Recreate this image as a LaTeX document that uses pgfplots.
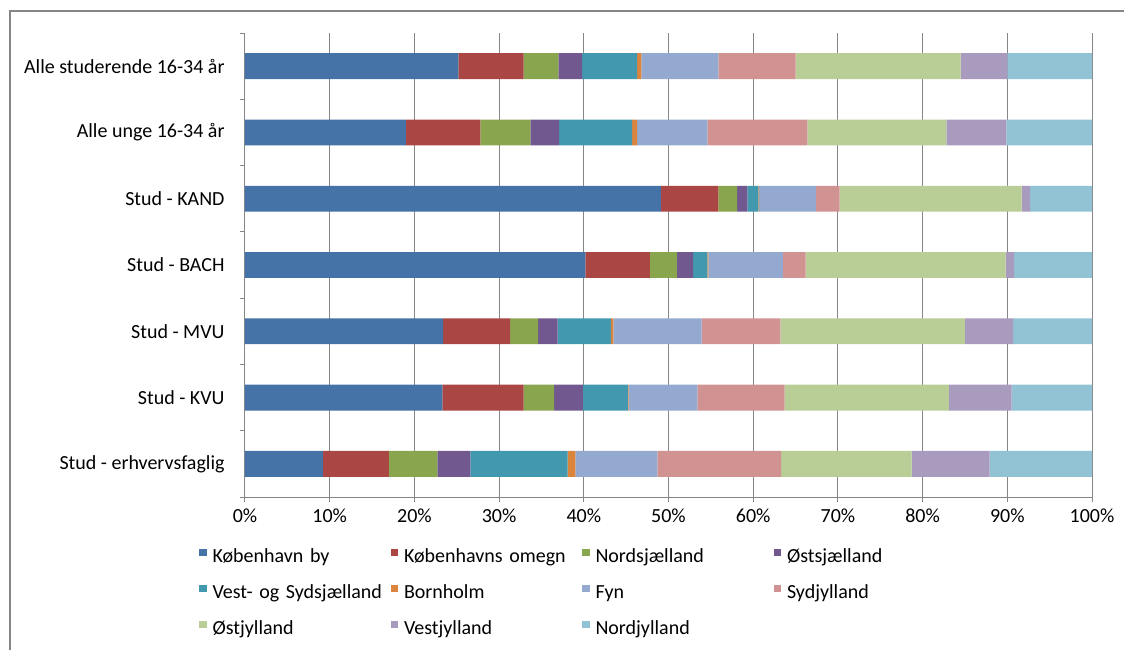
\documentclass[border=0pt]{standalone}
\usepackage{pgfplots}
\pgfplotsset{compat=1.18}
\usepackage{pgfplotstable}
\usepackage{fontspec}
\setmainfont{Carlito}

\definecolor{kby}{RGB}{69,114,167}
\definecolor{kom}{RGB}{170,70,67}
\definecolor{nord}{RGB}{137,165,78}
\definecolor{ost}{RGB}{113,88,143}
\definecolor{vs}{RGB}{65,152,175}
\definecolor{born}{RGB}{219,132,61}
\definecolor{fyn}{RGB}{147,169,207}
\definecolor{syd}{RGB}{209,147,146}
\definecolor{ostj}{RGB}{185,205,150}
\definecolor{vest}{RGB}{169,155,189}
\definecolor{nordj}{RGB}{145,195,213}
\definecolor{axgray}{RGB}{134,134,134}

% andele i procent, en raekke pr. gruppe (0 = oeverst)
\pgfplotstableread{
row kby  kom nord ost vs   born fyn  syd  ostj vest nordj
0   25.2 7.7 4.1  2.8 6.5  0.5  9.1  9.1  19.5 5.5  10.0
1   19.0 8.8 5.9  3.4 8.6  0.6  8.3  11.8 16.4 7.1  10.1
2   49.1 6.8 2.2  1.2 1.3  0.1  6.7  2.8  21.5 1.0  7.3
3   40.2 7.6 3.2  1.9 1.7  0.1  8.8  2.7  23.6 1.0  9.2
4   23.4 7.9 3.3  2.3 6.3  0.3  10.4 9.3  21.8 5.7  9.3
5   23.3 9.6 3.6  3.4 5.3  0.1  8.1  10.3 19.4 7.4  9.5
6   9.2  7.8 5.7  3.9 11.5 0.9  9.7  14.6 15.4 9.2  12.1
}\data

\begin{document}
\fontsize{10}{12}\selectfont
\begin{tikzpicture}
\useasboundingbox (0,0) rectangle (562pt,-324.5pt);
\draw[axgray, line width=0.75pt] (5pt,-330pt) -- (5pt,-5.5pt) -- (570pt,-5.5pt);
\begin{axis}[
    at={(122.5pt,-248.5pt)}, anchor=south west,
    scale only axis, width=423.5pt, height=232pt,
    xbar stacked, bar width=0.39,
    xmin=0, xmax=100, ymin=-0.5, ymax=6.5, y dir=reverse,
    axis x line*=bottom, axis y line*=left,
    axis line style={-, draw=axgray, line width=0.5pt},
    xtick={0,10,...,100},
    xticklabels={0\%,10\%,20\%,30\%,40\%,50\%,60\%,70\%,80\%,90\%,100\%},
    minor xtick={0,10,...,100},
    ytick={0,...,6},
    yticklabels={Alle studerende 16-34 år,Alle unge 16-34 år,Stud - KAND,Stud - BACH,Stud - MVU,Stud - KVU,Stud - erhvervsfaglig},
    minor ytick={-0.5,0.5,...,6.5},
    tick align=outside, major tick length=0pt, minor tick length=2.5pt,
    tick style={axgray, line width=0.5pt},
    xmajorgrids, major grid style={axgray, line width=0.5pt},
    xticklabel style={yshift=-2.5pt},
    yticklabel style={xshift=-6.7pt},
    legend columns=4, legend cell align=left,
    legend style={at={(-0.0543,-0.112)}, anchor=north west, draw=none, fill=none,
        inner sep=0pt, outer sep=0pt, row sep=9pt,
        nodes={text width=89pt, align=left, inner sep=0pt, text height=7pt, text depth=2pt},
        /tikz/every odd column/.append style={column sep=3pt},
        /tikz/every even column/.append style={column sep=0pt}},
    legend image code/.code={\fill[#1] (0pt,0.75pt) rectangle (3.75pt,4.5pt);},
]
\addplot[fill=kby, draw=none] table[x=kby, y=row] {\data};
\addplot[fill=kom, draw=none] table[x=kom, y=row] {\data};
\addplot[fill=nord, draw=none] table[x=nord, y=row] {\data};
\addplot[fill=ost, draw=none] table[x=ost, y=row] {\data};
\addplot[fill=vs, draw=none] table[x=vs, y=row] {\data};
\addplot[fill=born, draw=none] table[x=born, y=row] {\data};
\addplot[fill=fyn, draw=none] table[x=fyn, y=row] {\data};
\addplot[fill=syd, draw=none] table[x=syd, y=row] {\data};
\addplot[fill=ostj, draw=none] table[x=ostj, y=row] {\data};
\addplot[fill=vest, draw=none] table[x=vest, y=row] {\data};
\addplot[fill=nordj, draw=none] table[x=nordj, y=row] {\data};
\legend{København by, Københavns omegn, Nordsjælland, Østsjælland,
    Vest- og Sydsjælland, Bornholm, Fyn, Sydjylland,
    Østjylland, Vestjylland, Nordjylland}
\end{axis}
\end{tikzpicture}
\end{document}
